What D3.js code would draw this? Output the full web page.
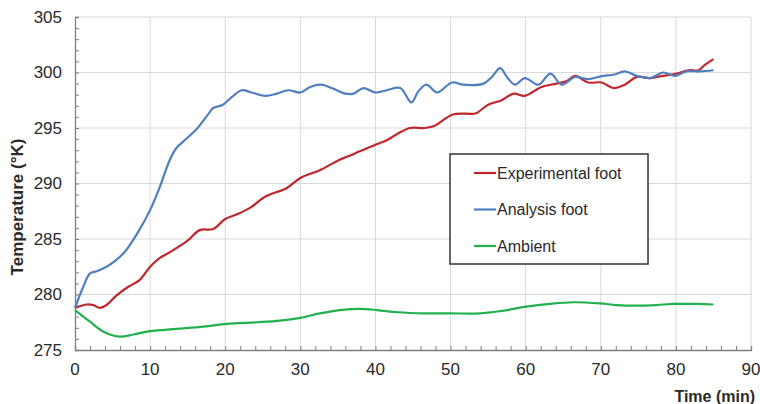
<!DOCTYPE html>
<html>
<head>
<meta charset="utf-8">
<script src="https://d3js.org/d3.v7.min.js"></script>
<style>
  body { margin: 0; background: #fff; }
  svg { display: block; font-family: "Liberation Sans", Arial, sans-serif; }
</style>
</head>
<body>
<div class="vis"></div>
<script>
  // readings from the picture
  const seriesNames = ["Experimental foot", "Analysis foot", "Ambient"];

  const expTime = [0, 1.6, 2.4, 3.3, 4.2, 5.5, 7.1, 8.6, 10, 11.3, 12.6, 14.9, 16.6, 18.4, 20, 21.5, 23.3, 25.3, 28.2, 30, 32.6, 35.1, 36.2, 37.9, 40, 41.5, 43, 44.6, 46.6, 47.9, 49, 50.2, 52, 53.3, 55, 56.8, 58.4, 59.9, 62.1, 64.1, 65.4, 66.6, 68.3, 70.1, 71.7, 73.2, 74.8, 76.6, 78.3, 80.1, 81.7, 83, 83.9, 85];
  const expTemp = [278.8, 279.1, 279.05, 278.8, 279.05, 279.9, 280.7, 281.3, 282.5, 283.3, 283.8, 284.8, 285.8, 285.9, 286.8, 287.2, 287.8, 288.8, 289.6, 290.5, 291.2, 292.1, 292.4, 292.9, 293.5, 293.9, 294.5, 295.0, 295.0, 295.2, 295.7, 296.2, 296.3, 296.3, 297.1, 297.5, 298.1, 297.9, 298.7, 299.0, 299.2, 299.7, 299.1, 299.1, 298.6, 298.9, 299.6, 299.5, 299.7, 299.9, 300.2, 300.2, 300.7, 301.2];

  const anaTime = [0, 1.1, 2, 2.9, 4.2, 5.3, 6.7, 8.2, 10, 11.3, 12.6, 13.5, 14.6, 16.2, 17.8, 18.4, 19.7, 20.9, 22.2, 23.5, 25.3, 26.9, 28.4, 30, 31.3, 32.8, 34.2, 36, 37.1, 38.4, 40, 41.5, 43.3, 44.8, 45.7, 46.8, 48.2, 50.2, 51.7, 54.4, 55.5, 56.6, 57.5, 58.6, 59.9, 61.7, 63.3, 64.8, 66.6, 68.3, 70.3, 71.7, 73.2, 74.8, 76.6, 78.3, 79.9, 81.4, 83.2, 85];
  const anaTemp = [278.8, 280.7, 281.9, 282.1, 282.5, 283.0, 283.9, 285.4, 287.6, 289.7, 292.1, 293.2, 293.9, 294.9, 296.3, 296.8, 297.1, 297.8, 298.4, 298.2, 297.9, 298.1, 298.4, 298.2, 298.7, 298.9, 298.6, 298.1, 298.1, 298.6, 298.2, 298.4, 298.6, 297.3, 298.3, 298.9, 298.2, 299.1, 298.9, 299.0, 299.6, 300.4, 299.6, 298.9, 299.5, 298.9, 299.9, 298.9, 299.6, 299.4, 299.7, 299.8, 300.1, 299.7, 299.5, 300.0, 299.7, 300.1, 300.1, 300.2];

  const ambTime = [0, 2, 3.8, 6, 7.8, 10, 13.5, 17.1, 20.2, 24.2, 27.3, 30, 32.6, 35.3, 37.9, 40.2, 43, 46.4, 49.9, 53.9, 56.6, 60.1, 63.2, 66.3, 69.9, 72.1, 74.8, 77.4, 79.7, 82.8, 85];
  const ambTemp = [278.6, 277.55, 276.65, 276.2, 276.4, 276.7, 276.9, 277.1, 277.35, 277.5, 277.65, 277.9, 278.3, 278.6, 278.7, 278.6, 278.4, 278.3, 278.3, 278.3, 278.5, 278.9, 279.15, 279.3, 279.2, 279.05, 279.0, 279.05, 279.15, 279.15, 279.1];

  const xTicks = [0, 10, 20, 30, 40, 50, 60, 70, 80, 90];
  const yTicks = [275, 280, 285, 290, 295, 300, 305];
  const colors = ["#c0272d", "#4f7fbf", "#22b14c"];

  const width = 760, height = 404;
  const margin = {left: 75, right: 9, top: 17, bottom: 54};

  const svg = d3.select(".vis").append("svg")
    .attr("width", width)
    .attr("height", height);

  const x = d3.scaleLinear().domain([0, 90]).range([margin.left, width - margin.right]);
  const y = d3.scaleLinear().domain([275, 305]).range([height - margin.bottom, margin.top]);

  // grid
  svg.append("g")
    .selectAll("line.v")
    .data(xTicks.slice(1))
    .join("line")
    .attr("x1", d => x(d)).attr("x2", d => x(d))
    .attr("y1", y(275)).attr("y2", y(305))
    .attr("stroke", "#d9d9d9");
  svg.append("g")
    .selectAll("line.h")
    .data(yTicks.slice(1))
    .join("line")
    .attr("x1", x(0)).attr("x2", x(90))
    .attr("y1", d => y(d)).attr("y2", d => y(d))
    .attr("stroke", "#d9d9d9");

  // axes with inside minor ticks
  const xAxis = svg.append("g")
    .attr("transform", `translate(0,${y(275)})`)
    .call(d3.axisBottom(x).tickValues(d3.range(0, 91, 2)).tickSize(-4).tickFormat(""));
  const yAxis = svg.append("g")
    .attr("transform", `translate(${x(0)},0)`)
    .call(d3.axisLeft(y).tickValues(d3.range(275, 306, 1)).tickSize(-4).tickFormat(""));
  [xAxis, yAxis].forEach(a => {
    a.select(".domain").attr("stroke", "#7f7f7f").attr("stroke-width", 1.3);
    a.selectAll(".tick line").attr("stroke", "#7f7f7f");
  });

  svg.append("g")
    .selectAll("text")
    .data(xTicks)
    .join("text")
    .attr("x", d => x(d))
    .attr("y", y(275) + 25)
    .attr("text-anchor", "middle")
    .attr("font-size", 17)
    .attr("fill", "#2a2a2a")
    .text(d => d);
  svg.append("g")
    .selectAll("text")
    .data(yTicks)
    .join("text")
    .attr("x", x(0) - 13)
    .attr("y", d => y(d))
    .attr("dy", "0.35em")
    .attr("text-anchor", "end")
    .attr("font-size", 17)
    .attr("fill", "#2a2a2a")
    .text(d => d);

  svg.append("text")
    .attr("transform", "translate(23,207) rotate(-90)")
    .attr("text-anchor", "middle")
    .attr("font-size", 17)
    .attr("font-weight", "bold")
    .attr("fill", "#2a2a2a")
    .text("Temperature (°K)");
  svg.append("text")
    .attr("x", 755)
    .attr("y", 402)
    .attr("text-anchor", "end")
    .attr("font-size", 16)
    .attr("font-weight", "bold")
    .attr("fill", "#2a2a2a")
    .text("Time (min)");

  // lines
  const series = [
    {name: seriesNames[0], t: expTime, v: expTemp, color: colors[0]},
    {name: seriesNames[1], t: anaTime, v: anaTemp, color: colors[1]},
    {name: seriesNames[2], t: ambTime, v: ambTemp, color: colors[2]}
  ];
  const line = d3.line()
    .x(d => x(d[0]))
    .y(d => y(d[1]))
    .curve(d3.curveCatmullRom.alpha(0.5));

  // draw ambient, then experimental, then analysis on top
  [2, 0, 1].forEach(i => {
    const s = series[i];
    svg.append("path")
      .datum(s.t.map((t, k) => [t, s.v[k]]))
      .attr("fill", "none")
      .attr("stroke", s.color)
      .attr("stroke-width", 2.2)
      .attr("stroke-linejoin", "round")
      .attr("d", line);
  });

  // legend
  const lg = svg.append("g").attr("transform", "translate(450,154)");
  lg.append("rect")
    .attr("width", 198).attr("height", 110)
    .attr("fill", "#fff")
    .attr("stroke", "#333")
    .attr("stroke-width", 1.5);
  series.forEach((s, i) => {
    const yy = 19 + i * 36.5;
    lg.append("line")
      .attr("x1", 24).attr("x2", 46)
      .attr("y1", yy).attr("y2", yy)
      .attr("stroke", s.color).attr("stroke-width", 2.2);
    lg.append("text")
      .attr("x", 47).attr("y", yy)
      .attr("dy", "0.35em")
      .attr("font-size", 16)
      .attr("fill", "#2a2a2a")
      .text(s.name);
  });
</script>
</body>
</html>
